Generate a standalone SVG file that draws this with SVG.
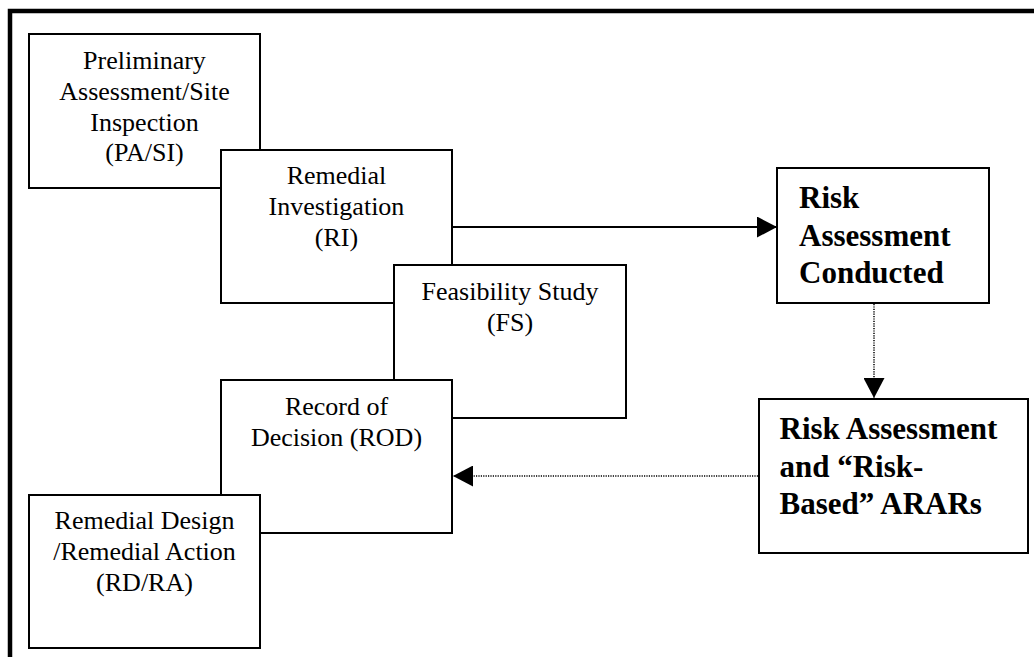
<svg xmlns="http://www.w3.org/2000/svg" width="1034" height="657" viewBox="0 0 1034 657">
<defs>
<style>
.box{fill:#fff;stroke:#000;stroke-width:2}
.t{font-family:"Liberation Serif","Times New Roman",serif;font-size:26px;fill:#000;text-anchor:middle}
.b{font-family:"Liberation Serif","Times New Roman",serif;font-size:31px;font-weight:bold;fill:#000}
.solid{stroke:#000;stroke-width:2;fill:none}
.dot{stroke:#000;stroke-width:1.5;fill:none;stroke-dasharray:1.2 1.2}
</style>
<marker id="ah" markerUnits="userSpaceOnUse" markerWidth="21" markerHeight="21" refX="20" refY="10.5" orient="auto" viewBox="0 0 21 21">
<path d="M0,0 L20,10.5 L0,21 Z" fill="#000" stroke="none"/>
</marker>
</defs>
<rect x="0" y="0" width="1034" height="657" fill="#fff"/>
<path d="M10,657 V11 H1034" fill="none" stroke="#000" stroke-width="4.5"/>
<g id="pasi">
<rect class="box" x="29" y="34" width="231" height="154"/>
<text class="t" x="144.5" y="69">Preliminary</text>
<text class="t" x="144.5" y="100">Assessment/Site</text>
<text class="t" x="144.5" y="130.5">Inspection</text>
<text class="t" x="144.5" y="161">(PA/SI)</text>
</g>
<g id="ri">
<rect class="box" x="221" y="150" width="231" height="153"/>
<text class="t" x="336.5" y="184">Remedial</text>
<text class="t" x="336.5" y="215">Investigation</text>
<text class="t" x="336.5" y="246">(RI)</text>
</g>
<g id="fs">
<rect class="box" x="394" y="265" width="232" height="153"/>
<text class="t" x="510" y="300">Feasibility Study</text>
<text class="t" x="510" y="330.5">(FS)</text>
</g>
<g id="rod">
<rect class="box" x="221" y="380" width="231" height="153"/>
<text class="t" x="336.5" y="415">Record of</text>
<text class="t" x="336.5" y="446">Decision (ROD)</text>
</g>
<g id="rdra">
<rect class="box" x="29" y="495" width="231" height="153"/>
<text class="t" x="144.5" y="528.5">Remedial Design</text>
<text class="t" x="144.5" y="559.5">/Remedial Action</text>
<text class="t" x="144.5" y="590.5">(RD/RA)</text>
</g>
<g id="rac">
<rect class="box" x="777" y="168" width="212" height="135"/>
<text class="b" x="799" y="208">Risk</text>
<text class="b" x="799" y="245.5">Assessment</text>
<text class="b" x="799" y="283">Conducted</text>
</g>
<g id="arars">
<rect class="box" x="759" y="399" width="269" height="154"/>
<text class="b" x="779.5" y="439">Risk Assessment</text>
<text class="b" x="779.5" y="477">and “Risk-</text>
<text class="b" x="779.5" y="514">Based” ARARs</text>
</g>
<g id="connectors">
<line class="solid" x1="452" y1="227" x2="777" y2="227" marker-end="url(#ah)"/>
<line class="dot" x1="874" y1="304" x2="874" y2="398" marker-end="url(#ah)"/>
<line class="dot" x1="758" y1="476" x2="453" y2="476" marker-end="url(#ah)"/>
</g>
</svg>
